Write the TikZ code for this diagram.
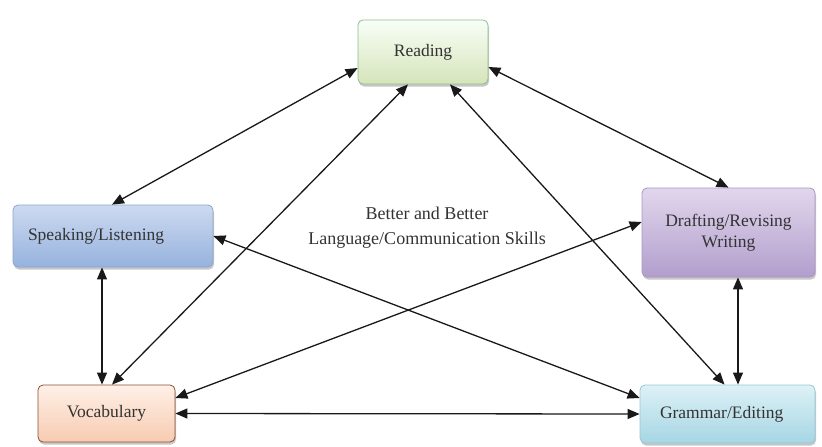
\documentclass[tikz,border=0pt]{standalone}
\usepackage{fontspec}
\setmainfont{Liberation Serif}
\usetikzlibrary{arrows.meta,shadows}
\definecolor{txt}{HTML}{333333}
\tikzset{
  box/.style={rounded corners=5pt, draw, line width=0.8pt, align=center,
    font=\fontsize{17.5}{21}\selectfont, text=txt, inner sep=2pt,
    drop shadow={shadow xshift=1pt, shadow yshift=-2.5pt, fill=gray!55, opacity=0.8}},
  link/.style={line width=1.3pt, draw=black!90,
    {Triangle[length=12pt,width=10pt]}-{Triangle[length=12pt,width=10pt]}}
}
\begin{document}
\begin{tikzpicture}[x=1pt,y=-1pt]
\useasboundingbox (0,0) rectangle (822,447);
\node[box, draw=green!25!gray!70, top color=green!3!white, bottom color={rgb,255:red,214;green,228;blue,186},
  minimum width=130pt, minimum height=64pt] (reading) at (423,52) {Reading};
\node[box, draw={rgb,255:red,140;green,165;blue,205}, top color={rgb,255:red,205;green,218;blue,240}, bottom color={rgb,255:red,150;green,178;blue,222},
  minimum width=200pt, minimum height=62pt, text width=170pt, align=left] (speak) at (113,236) {Speaking/Listening};
\node[box, draw={rgb,255:red,170;green,150;blue,195}, top color={rgb,255:red,225;green,215;blue,236}, bottom color={rgb,255:red,178;green,158;blue,205},
  minimum width=173pt, minimum height=89pt] (draft) at (728.5,232.5) {Drafting/Revising\\Writing};
\node[box, draw={rgb,255:red,140;green,80;blue,55}, top color={rgb,255:red,255;green,240;blue,232}, bottom color={rgb,255:red,247;green,203;blue,176},
  minimum width=137pt, minimum height=57pt] (vocab) at (106.5,413.5) {Vocabulary};
\node[box, draw={rgb,255:red,150;green,200;blue,215}, top color={rgb,255:red,222;green,241;blue,246}, bottom color={rgb,255:red,165;green,214;blue,228},
  minimum width=175pt, minimum height=58pt, text width=135pt, align=left] (gram) at (727.5,414) {Grammar/Editing};
\node[align=center, font=\fontsize{18}{25}\selectfont, text=txt] (center) at (427,228) {Better and Better\\Language/Communication Skills};
\draw[link] ([yshift=-16pt]reading.west) -- ([xshift=-1pt]speak.north);
\draw[link] ([xshift=-15pt]reading.south) -- ([xshift=5.5pt]vocab.north);
\draw[link] ([yshift=-15pt]reading.east) -- (draft.north);
\draw[link] ([xshift=27pt]reading.south) -- ([xshift=-3pt]gram.north);
\draw[link] (speak.east) -- ([yshift=16pt]gram.west);
\draw[link] ([yshift=10.5pt]draft.west) -- ([yshift=15.5pt]vocab.east);
\draw[link] (vocab.east) -- (gram.west);
\draw[link] ([xshift=-11pt]speak.south) -- ([xshift=-4.5pt]vocab.north);
\draw[link] ([xshift=9.5pt]draft.south) -- ([xshift=10.5pt]gram.north);
\end{tikzpicture}
\end{document}
